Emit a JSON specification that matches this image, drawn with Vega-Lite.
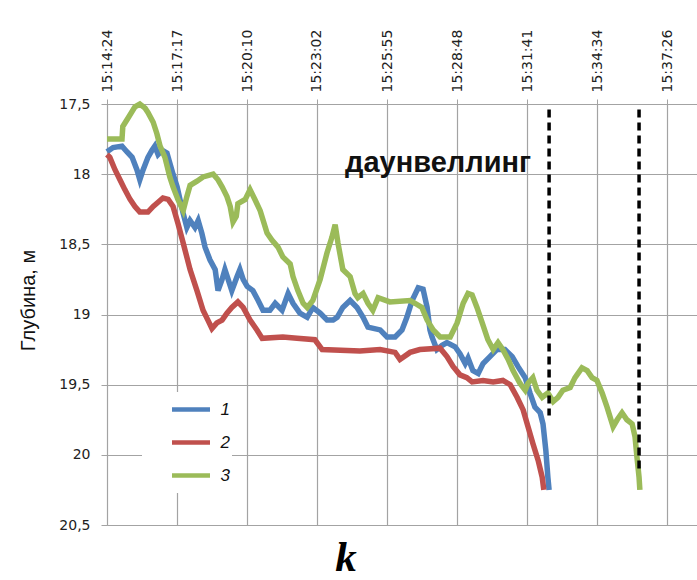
{
  "$schema": "https://vega.github.io/schema/vega-lite/v6.json",
  "width": 590,
  "height": 421,
  "autosize": {"type": "none"},
  "padding": {"left": 107, "top": 104, "right": 0, "bottom": 55},
  "background": "white",
  "config": {"view": {"stroke": null}},
  "title": {"text": "k", "orient": "bottom", "anchor": "middle", "frame": "group", "dx": -56, "offset": 5, "font": "Liberation Serif", "fontSize": 43, "fontStyle": "italic", "fontWeight": "bold", "color": "#000000"},
  "datasets": {
    "lines": [
      {"series": "1", "t": 0, "depth": 17.84}, {"series": "1", "t": 15, "depth": 17.81}, {"series": "1", "t": 37, "depth": 17.8}, {"series": "1", "t": 49, "depth": 17.84}, {"series": "1", "t": 62, "depth": 17.88}, {"series": "1", "t": 74, "depth": 17.97}, {"series": "1", "t": 81, "depth": 18.04}, {"series": "1", "t": 89, "depth": 17.97}, {"series": "1", "t": 101, "depth": 17.88}, {"series": "1", "t": 111, "depth": 17.83}, {"series": "1", "t": 118, "depth": 17.8}, {"series": "1", "t": 126, "depth": 17.86}, {"series": "1", "t": 136, "depth": 17.83}, {"series": "1", "t": 148, "depth": 17.85}, {"series": "1", "t": 155, "depth": 17.92}, {"series": "1", "t": 163, "depth": 18.0}, {"series": "1", "t": 173, "depth": 18.09}, {"series": "1", "t": 180, "depth": 18.18}, {"series": "1", "t": 188, "depth": 18.28}, {"series": "1", "t": 197, "depth": 18.38}, {"series": "1", "t": 205, "depth": 18.33}, {"series": "1", "t": 217, "depth": 18.38}, {"series": "1", "t": 225, "depth": 18.33}, {"series": "1", "t": 234, "depth": 18.42}, {"series": "1", "t": 242, "depth": 18.52}, {"series": "1", "t": 254, "depth": 18.61}, {"series": "1", "t": 267, "depth": 18.68}, {"series": "1", "t": 274, "depth": 18.83}, {"series": "1", "t": 284, "depth": 18.75}, {"series": "1", "t": 291, "depth": 18.68}, {"series": "1", "t": 299, "depth": 18.75}, {"series": "1", "t": 308, "depth": 18.83}, {"series": "1", "t": 321, "depth": 18.73}, {"series": "1", "t": 328, "depth": 18.68}, {"series": "1", "t": 336, "depth": 18.75}, {"series": "1", "t": 346, "depth": 18.8}, {"series": "1", "t": 360, "depth": 18.83}, {"series": "1", "t": 373, "depth": 18.9}, {"series": "1", "t": 385, "depth": 18.97}, {"series": "1", "t": 402, "depth": 18.97}, {"series": "1", "t": 415, "depth": 18.92}, {"series": "1", "t": 432, "depth": 18.97}, {"series": "1", "t": 447, "depth": 18.85}, {"series": "1", "t": 459, "depth": 18.92}, {"series": "1", "t": 476, "depth": 18.99}, {"series": "1", "t": 494, "depth": 19.02}, {"series": "1", "t": 508, "depth": 18.95}, {"series": "1", "t": 526, "depth": 18.99}, {"series": "1", "t": 543, "depth": 19.04}, {"series": "1", "t": 558, "depth": 19.04}, {"series": "1", "t": 568, "depth": 19.02}, {"series": "1", "t": 582, "depth": 18.95}, {"series": "1", "t": 600, "depth": 18.9}, {"series": "1", "t": 617, "depth": 18.95}, {"series": "1", "t": 632, "depth": 19.02}, {"series": "1", "t": 644, "depth": 19.09}, {"series": "1", "t": 674, "depth": 19.11}, {"series": "1", "t": 691, "depth": 19.16}, {"series": "1", "t": 711, "depth": 19.16}, {"series": "1", "t": 728, "depth": 19.11}, {"series": "1", "t": 740, "depth": 19.02}, {"series": "1", "t": 753, "depth": 18.9}, {"series": "1", "t": 768, "depth": 18.81}, {"series": "1", "t": 780, "depth": 18.82}, {"series": "1", "t": 790, "depth": 18.95}, {"series": "1", "t": 797, "depth": 19.11}, {"series": "1", "t": 802, "depth": 19.16}, {"series": "1", "t": 814, "depth": 19.25}, {"series": "1", "t": 827, "depth": 19.22}, {"series": "1", "t": 839, "depth": 19.2}, {"series": "1", "t": 859, "depth": 19.23}, {"series": "1", "t": 871, "depth": 19.28}, {"series": "1", "t": 884, "depth": 19.35}, {"series": "1", "t": 891, "depth": 19.31}, {"series": "1", "t": 903, "depth": 19.4}, {"series": "1", "t": 916, "depth": 19.42}, {"series": "1", "t": 928, "depth": 19.35}, {"series": "1", "t": 945, "depth": 19.3}, {"series": "1", "t": 962, "depth": 19.25}, {"series": "1", "t": 982, "depth": 19.25}, {"series": "1", "t": 1000, "depth": 19.3}, {"series": "1", "t": 1014, "depth": 19.37}, {"series": "1", "t": 1032, "depth": 19.45}, {"series": "1", "t": 1044, "depth": 19.56}, {"series": "1", "t": 1056, "depth": 19.66}, {"series": "1", "t": 1069, "depth": 19.7}, {"series": "1", "t": 1076, "depth": 19.78}, {"series": "1", "t": 1083, "depth": 19.97}, {"series": "1", "t": 1088, "depth": 20.16}, {"series": "1", "t": 1091, "depth": 20.25},
      {"series": "2", "t": 0, "depth": 17.86}, {"series": "2", "t": 7, "depth": 17.88}, {"series": "2", "t": 20, "depth": 17.97}, {"series": "2", "t": 32, "depth": 18.04}, {"series": "2", "t": 44, "depth": 18.11}, {"series": "2", "t": 57, "depth": 18.18}, {"series": "2", "t": 69, "depth": 18.23}, {"series": "2", "t": 81, "depth": 18.27}, {"series": "2", "t": 101, "depth": 18.27}, {"series": "2", "t": 114, "depth": 18.23}, {"series": "2", "t": 126, "depth": 18.2}, {"series": "2", "t": 138, "depth": 18.17}, {"series": "2", "t": 151, "depth": 18.18}, {"series": "2", "t": 163, "depth": 18.23}, {"series": "2", "t": 175, "depth": 18.35}, {"series": "2", "t": 188, "depth": 18.49}, {"series": "2", "t": 205, "depth": 18.68}, {"series": "2", "t": 222, "depth": 18.83}, {"series": "2", "t": 237, "depth": 18.97}, {"series": "2", "t": 249, "depth": 19.04}, {"series": "2", "t": 259, "depth": 19.1}, {"series": "2", "t": 271, "depth": 19.06}, {"series": "2", "t": 284, "depth": 19.04}, {"series": "2", "t": 296, "depth": 18.99}, {"series": "2", "t": 308, "depth": 18.95}, {"series": "2", "t": 323, "depth": 18.91}, {"series": "2", "t": 336, "depth": 18.95}, {"series": "2", "t": 353, "depth": 19.04}, {"series": "2", "t": 370, "depth": 19.11}, {"series": "2", "t": 383, "depth": 19.17}, {"series": "2", "t": 434, "depth": 19.16}, {"series": "2", "t": 469, "depth": 19.17}, {"series": "2", "t": 513, "depth": 19.18}, {"series": "2", "t": 531, "depth": 19.25}, {"series": "2", "t": 624, "depth": 19.26}, {"series": "2", "t": 674, "depth": 19.25}, {"series": "2", "t": 711, "depth": 19.27}, {"series": "2", "t": 723, "depth": 19.32}, {"series": "2", "t": 748, "depth": 19.27}, {"series": "2", "t": 772, "depth": 19.25}, {"series": "2", "t": 822, "depth": 19.24}, {"series": "2", "t": 839, "depth": 19.3}, {"series": "2", "t": 854, "depth": 19.37}, {"series": "2", "t": 871, "depth": 19.43}, {"series": "2", "t": 888, "depth": 19.45}, {"series": "2", "t": 901, "depth": 19.48}, {"series": "2", "t": 928, "depth": 19.47}, {"series": "2", "t": 953, "depth": 19.48}, {"series": "2", "t": 977, "depth": 19.47}, {"series": "2", "t": 995, "depth": 19.5}, {"series": "2", "t": 1012, "depth": 19.59}, {"series": "2", "t": 1027, "depth": 19.68}, {"series": "2", "t": 1039, "depth": 19.8}, {"series": "2", "t": 1051, "depth": 19.92}, {"series": "2", "t": 1064, "depth": 20.04}, {"series": "2", "t": 1074, "depth": 20.16}, {"series": "2", "t": 1078, "depth": 20.25},
      {"series": "3", "t": 0, "depth": 17.75}, {"series": "3", "t": 37, "depth": 17.75}, {"series": "3", "t": 39, "depth": 17.66}, {"series": "3", "t": 52, "depth": 17.6}, {"series": "3", "t": 69, "depth": 17.52}, {"series": "3", "t": 81, "depth": 17.5}, {"series": "3", "t": 94, "depth": 17.53}, {"series": "3", "t": 101, "depth": 17.56}, {"series": "3", "t": 114, "depth": 17.63}, {"series": "3", "t": 123, "depth": 17.71}, {"series": "3", "t": 131, "depth": 17.8}, {"series": "3", "t": 143, "depth": 17.88}, {"series": "3", "t": 155, "depth": 18.02}, {"series": "3", "t": 163, "depth": 18.09}, {"series": "3", "t": 175, "depth": 18.18}, {"series": "3", "t": 188, "depth": 18.26}, {"series": "3", "t": 197, "depth": 18.16}, {"series": "3", "t": 205, "depth": 18.08}, {"series": "3", "t": 222, "depth": 18.05}, {"series": "3", "t": 237, "depth": 18.02}, {"series": "3", "t": 262, "depth": 18.0}, {"series": "3", "t": 274, "depth": 18.04}, {"series": "3", "t": 284, "depth": 18.09}, {"series": "3", "t": 296, "depth": 18.16}, {"series": "3", "t": 304, "depth": 18.23}, {"series": "3", "t": 311, "depth": 18.34}, {"series": "3", "t": 319, "depth": 18.3}, {"series": "3", "t": 323, "depth": 18.21}, {"series": "3", "t": 341, "depth": 18.18}, {"series": "3", "t": 353, "depth": 18.11}, {"series": "3", "t": 365, "depth": 18.18}, {"series": "3", "t": 378, "depth": 18.26}, {"series": "3", "t": 395, "depth": 18.42}, {"series": "3", "t": 407, "depth": 18.47}, {"series": "3", "t": 422, "depth": 18.52}, {"series": "3", "t": 434, "depth": 18.59}, {"series": "3", "t": 452, "depth": 18.64}, {"series": "3", "t": 459, "depth": 18.73}, {"series": "3", "t": 471, "depth": 18.83}, {"series": "3", "t": 484, "depth": 18.92}, {"series": "3", "t": 494, "depth": 18.95}, {"series": "3", "t": 508, "depth": 18.9}, {"series": "3", "t": 526, "depth": 18.75}, {"series": "3", "t": 543, "depth": 18.56}, {"series": "3", "t": 555, "depth": 18.45}, {"series": "3", "t": 563, "depth": 18.36}, {"series": "3", "t": 570, "depth": 18.49}, {"series": "3", "t": 582, "depth": 18.68}, {"series": "3", "t": 600, "depth": 18.73}, {"series": "3", "t": 612, "depth": 18.85}, {"series": "3", "t": 619, "depth": 18.88}, {"series": "3", "t": 632, "depth": 18.85}, {"series": "3", "t": 644, "depth": 18.92}, {"series": "3", "t": 656, "depth": 18.97}, {"series": "3", "t": 669, "depth": 18.88}, {"series": "3", "t": 698, "depth": 18.91}, {"series": "3", "t": 748, "depth": 18.9}, {"series": "3", "t": 760, "depth": 18.92}, {"series": "3", "t": 777, "depth": 18.95}, {"series": "3", "t": 790, "depth": 19.04}, {"series": "3", "t": 805, "depth": 19.11}, {"series": "3", "t": 822, "depth": 19.16}, {"series": "3", "t": 847, "depth": 19.16}, {"series": "3", "t": 864, "depth": 19.06}, {"series": "3", "t": 879, "depth": 18.92}, {"series": "3", "t": 891, "depth": 18.85}, {"series": "3", "t": 901, "depth": 18.86}, {"series": "3", "t": 913, "depth": 18.95}, {"series": "3", "t": 926, "depth": 19.06}, {"series": "3", "t": 940, "depth": 19.18}, {"series": "3", "t": 953, "depth": 19.25}, {"series": "3", "t": 965, "depth": 19.2}, {"series": "3", "t": 977, "depth": 19.25}, {"series": "3", "t": 990, "depth": 19.32}, {"series": "3", "t": 1002, "depth": 19.4}, {"series": "3", "t": 1019, "depth": 19.49}, {"series": "3", "t": 1032, "depth": 19.54}, {"series": "3", "t": 1039, "depth": 19.49}, {"series": "3", "t": 1051, "depth": 19.45}, {"series": "3", "t": 1061, "depth": 19.54}, {"series": "3", "t": 1074, "depth": 19.59}, {"series": "3", "t": 1088, "depth": 19.56}, {"series": "3", "t": 1101, "depth": 19.62}, {"series": "3", "t": 1113, "depth": 19.59}, {"series": "3", "t": 1125, "depth": 19.54}, {"series": "3", "t": 1143, "depth": 19.52}, {"series": "3", "t": 1155, "depth": 19.45}, {"series": "3", "t": 1172, "depth": 19.38}, {"series": "3", "t": 1185, "depth": 19.4}, {"series": "3", "t": 1197, "depth": 19.45}, {"series": "3", "t": 1209, "depth": 19.47}, {"series": "3", "t": 1222, "depth": 19.56}, {"series": "3", "t": 1234, "depth": 19.66}, {"series": "3", "t": 1249, "depth": 19.8}, {"series": "3", "t": 1259, "depth": 19.75}, {"series": "3", "t": 1271, "depth": 19.7}, {"series": "3", "t": 1283, "depth": 19.75}, {"series": "3", "t": 1296, "depth": 19.78}, {"series": "3", "t": 1303, "depth": 19.87}, {"series": "3", "t": 1308, "depth": 20.02}, {"series": "3", "t": 1313, "depth": 20.16}, {"series": "3", "t": 1315, "depth": 20.25}
    ],
    "dashes": [
      {"t": 1091, "depth": 17.54, "depth2": 19.72},
      {"t": 1313, "depth": 17.54, "depth2": 20.12}
    ],
    "notes": [
      {"t": 817, "depth": 17.985, "label": "даунвеллинг"}
    ]
  },
  "encoding": {
    "x": {
      "field": "t", "type": "quantitative",
      "scale": {"domain": [0, 1456], "nice": false, "zero": false},
      "axis": {
        "orient": "top", "title": null,
        "values": [0, 173, 346, 518, 691, 864, 1037, 1210, 1382],
        "labelExpr": "timeFormat(datetime(2000, 0, 1, 15, 14, 24 + datum.value), '%H:%M:%S')",
        "labelAngle": -90, "labelAlign": "left", "labelBaseline": "middle",
        "labelFont": "DejaVu Sans", "labelFontSize": 14, "labelColor": "#222222",
        "labelPadding": 7, "labelFlush": false, "labelOverlap": false,
        "tickSize": 5, "tickColor": "#a3a3a3", "domainColor": "#a3a3a3",
        "grid": true, "gridColor": "#a3a3a3", "gridWidth": 1.2
      }
    },
    "y": {
      "field": "depth", "type": "quantitative",
      "scale": {"domain": [17.5, 20.5], "reverse": true, "nice": false, "zero": false},
      "axis": {
        "values": [17.5, 18, 18.5, 19, 19.5, 20, 20.5],
        "labelExpr": "replace(toString(datum.value), '.', ',')",
        "labelFont": "DejaVu Sans", "labelFontSize": 14, "labelColor": "#222222",
        "labelPadding": 11, "tickSize": 6, "tickColor": "#a3a3a3", "domainColor": "#a3a3a3",
        "grid": true, "gridColor": "#a3a3a3", "gridWidth": 1.2,
        "title": "Глубина, м", "titleFont": "Liberation Sans", "titleFontSize": 20,
        "titleFontWeight": "normal", "titleColor": "#111111",
        "titleX": -79, "titleY": 196, "titleAngle": -90, "titleAlign": "center", "titleBaseline": "middle"
      }
    }
  },
  "layer": [
    {
      "data": {"name": "lines"},
      "mark": {"type": "line", "strokeWidth": 5.5, "interpolate": "linear"},
      "encoding": {
        "color": {
          "field": "series", "type": "nominal",
          "scale": {"domain": ["1", "2", "3"], "range": ["#4F81BD", "#C0504D", "#9BBB59"]},
          "legend": {
            "title": null, "orient": "none", "legendX": 35, "legendY": 288,
            "fillColor": "white", "padding": 2,
            "symbolType": "stroke", "symbolSize": 1444, "symbolStrokeWidth": 4.5,
            "symbolOffset": 25.5, "labelOffset": 8, "clipHeight": 31, "rowPadding": 2,
            "labelFont": "Liberation Sans", "labelFontSize": 17, "labelFontStyle": "italic", "labelColor": "#111111",
            "labelExpr": "datum.label + '\u00a0\u00a0\u00a0\u00a0\u00a0\u00a0\u00a0\u00a0\u00a0'"
          }
        }
      }
    },
    {
      "data": {"name": "dashes"},
      "mark": {"type": "rule", "color": "#000000", "strokeWidth": 3.5, "strokeDash": [8, 5]},
      "encoding": {
        "y2": {"field": "depth2"}
      }
    },
    {
      "data": {"name": "notes"},
      "mark": {"type": "text", "font": "Liberation Sans", "fontSize": 29, "fontWeight": "bold", "align": "center", "baseline": "alphabetic", "color": "#111111"},
      "encoding": {
        "text": {"field": "label"}
      }
    }
  ]
}
